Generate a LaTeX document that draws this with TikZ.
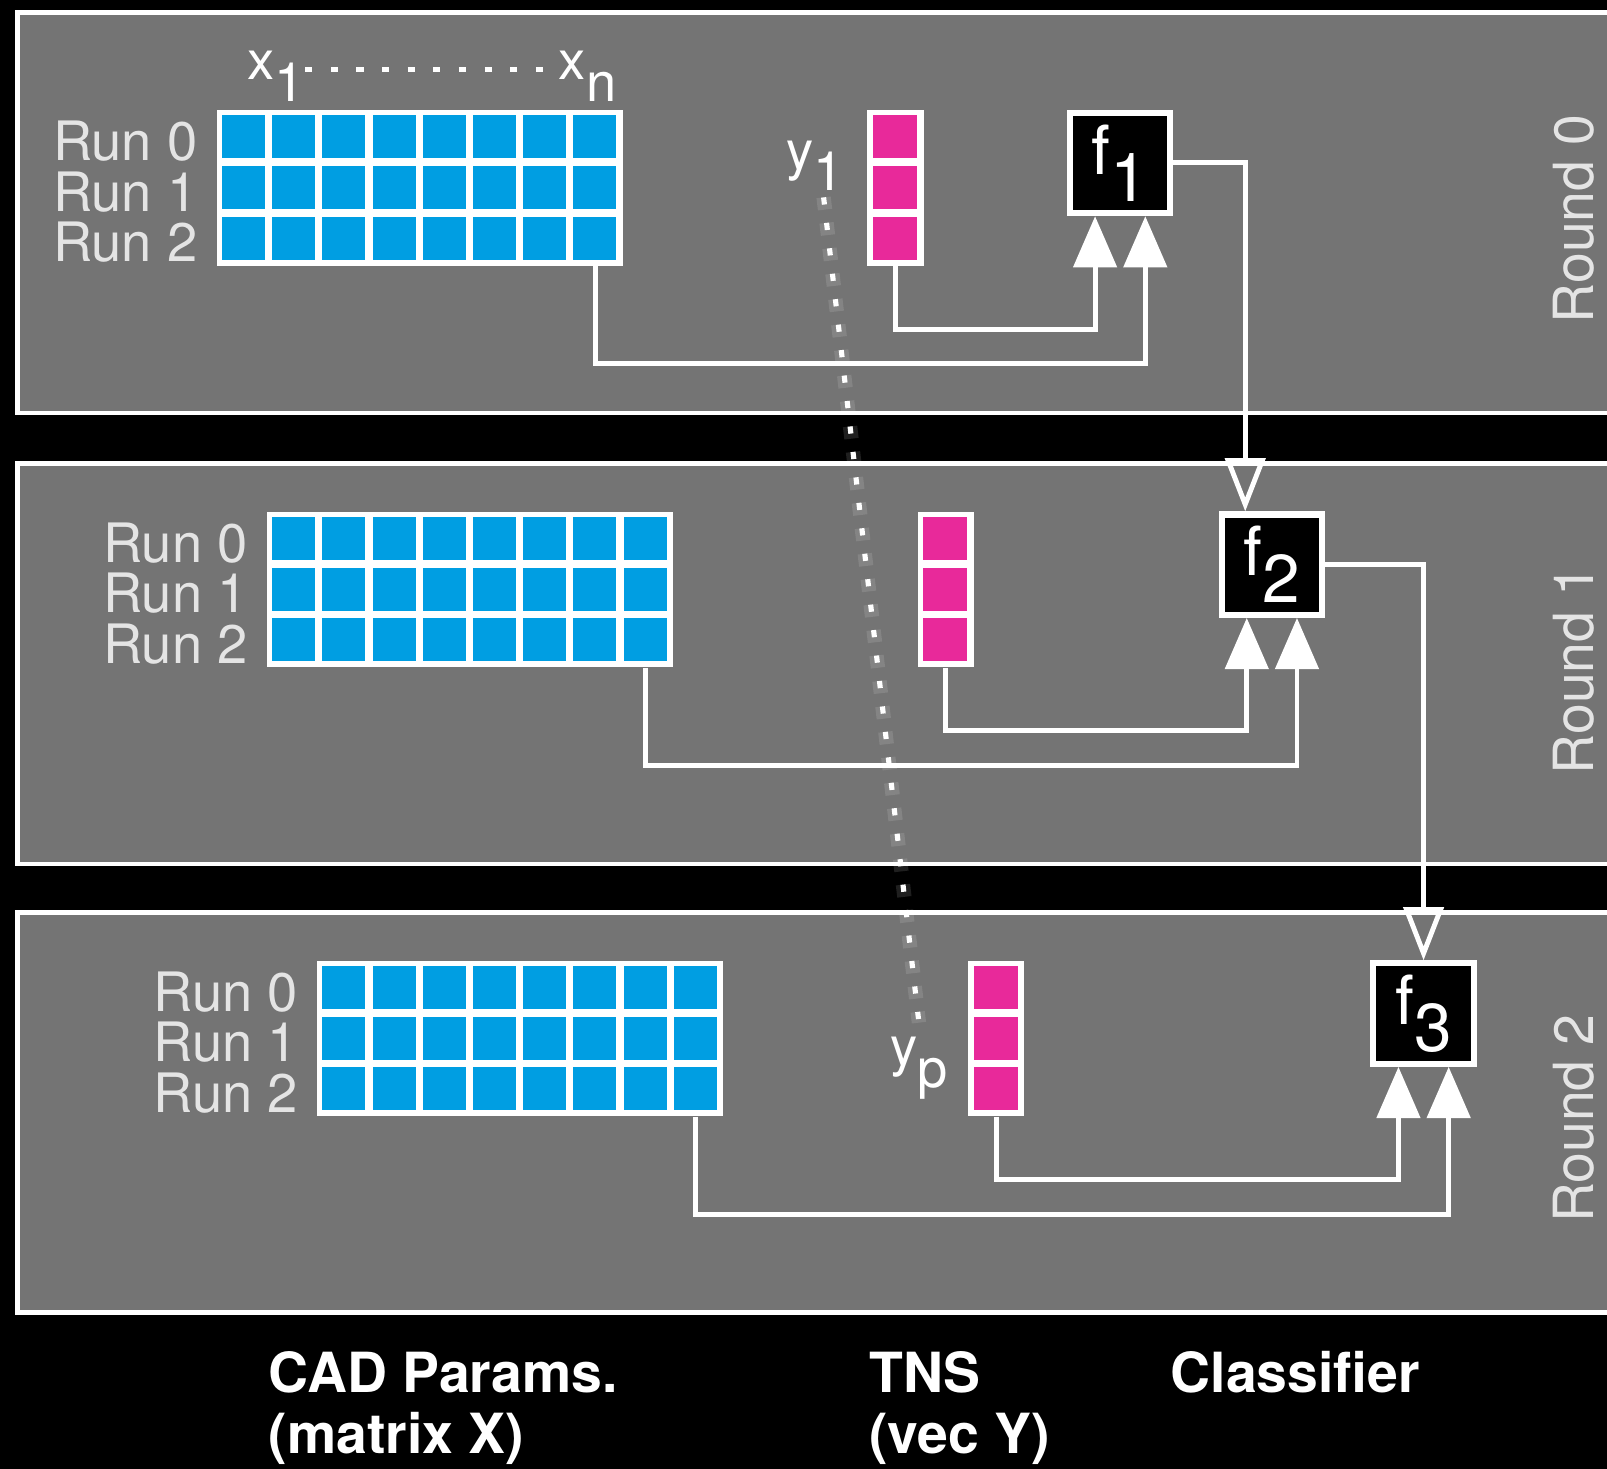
\documentclass[tikz,border=0pt]{standalone}
\usepackage{fontspec}
\setmainfont{TeX Gyre Heros}
\usetikzlibrary{arrows.meta,calc}
\definecolor{panelgray}{HTML}{747474}
\definecolor{cadblue}{HTML}{009EE2}
\definecolor{tnspink}{HTML}{E8299A}
\definecolor{runtext}{HTML}{E4E4E4}
\newcommand{\runsize}{\fontsize{26.5}{24}\selectfont}
\newcommand{\idxsize}{\fontsize{26.5}{28}\selectfont}
\newcommand{\clfsize}{\fontsize{33}{36}\selectfont}
\newcommand{\roundsize}{\fontsize{27}{30}\selectfont}
\newcommand{\headsize}{\fontsize{27}{30}\selectfont}
\newcommand{\lowidx}[1]{\raisebox{-.4em}{#1}}
\tikzset{
 every node/.append style={inner sep=0pt,text=white},
 matbox/.style={fill=white,anchor=north west,minimum width=198pt,minimum height=75.9pt},
 vecbox/.style={fill=white,anchor=north west,minimum width=27.5pt,minimum height=75.9pt},
 clfbox/.style={fill=black,draw=white,line width=3pt,minimum size=49pt,font=\clfsize},
 panel/.style={fill=panelgray,draw=white,line width=2.4pt},
 feed/.style={draw=white,line width=2.4pt,-{Triangle[length=25pt,width=21pt]}},
 chain/.style={draw=white,line width=2.4pt,-{Triangle[open,length=26pt,width=19.5pt]}},
 dotline/.style={draw=white,line width=2.5pt,dash pattern=on 3.5pt off 9pt},
 dotglow/.style={draw=white,opacity=.12,line width=7pt,dash pattern=on 6pt off 6.5pt},
 idxlabel/.style={font=\idxsize},
 runlabel/.style={text=runtext,font=\runsize,anchor=base east},
 roundlabel/.style={text=runtext,font=\roundsize,rotate=90},
 colhead/.style={font=\headsize\bfseries,align=left,anchor=north west},
}
\begin{document}
\begin{tikzpicture}[x=0.5pt,y=-0.5pt]

\useasboundingbox (0,0) rectangle (1568,1433);
\clip (0,0) rectangle (1568,1433);
\fill[black] (0,0) rectangle (1568,1433);

\foreach \i/\n/\dx/\ty/\py in {0/1/0/107/12,1/2/49/499/452,2/3/98/937/890} {
  \draw[panel] (17,\py) rectangle (1600,\py+391);
  \node[roundlabel] (round\i) at (1536,\py+201.5) {Round \i};
  % parameter matrix and TNS vector
  \node[matbox] (cad\i) at (211+\dx,\ty) {};
  \foreach \c in {0,...,7}
    \foreach \r in {0,1,2}
      \fill[cadblue] ($(cad\i.north west)+(5.5+49*\c,5.5+49.4*\r)$) rectangle ++(42,42);
  \node[vecbox] (tns\i) at (846+\dx,\ty) {};
  \foreach \r in {0,1,2} {
    \fill[tnspink] ($(tns\i.north west)+(6,5.5+49.4*\r)$) rectangle ++(43,42);
    \node[runlabel] (run\i\r) at ($(cad\i.north west)+(-18,49.5+49.4*\r)$) {Run \r};
  }
  % classifier of this round
  \node[clfbox] (clf\i) at (1093+148*\i,\ty+52) {f\lowidx{\n}};
  \draw[feed] (tns\i.south) -- ++(0,61.5) -| ([xshift=-12.25pt]clf\i.south);
  \draw[feed] ([xshift=-13.5pt]cad\i.south east) -- ++(0,95.5) -| ([xshift=12.25pt]clf\i.south);
}

\draw[chain] (clf0.east) -| ([xshift=-13pt]clf1.north);
\draw[chain] (clf1.east) -| (clf2.north);

\node[idxlabel,anchor=base west] (xfirst) at (241,78) {x\lowidx{1}};
\node[idxlabel,anchor=base west] (xlast) at (545,78) {x\lowidx{n}};
\draw[dotline] ([yshift=3.5pt]xfirst.east) -- ([yshift=3.5pt]xlast.west);

\node[idxlabel,anchor=base east] (yfirst) at ($(tns0.north west)+(-22,58)$) {y\lowidx{1}};
\node[idxlabel,anchor=base east] (ylast) at ($(tns2.north west)+(-19,103)$) {y\lowidx{p}};
\draw[dotglow] ([xshift=4pt,yshift=-3pt]yfirst.south) -- ([yshift=7pt]ylast.north);
\draw[dotline] ([xshift=4pt,yshift=-3pt]yfirst.south) -- ([yshift=7pt]ylast.north);

\node[colhead] (cadhead) at (262,1318) {CAD Params.\\(matrix X)};
\node[colhead] (tnshead) at (848,1318) {TNS\\(vec Y)};
\node[colhead] (clfhead) at (1142,1318) {Classifier};

\end{tikzpicture}
\end{document}
